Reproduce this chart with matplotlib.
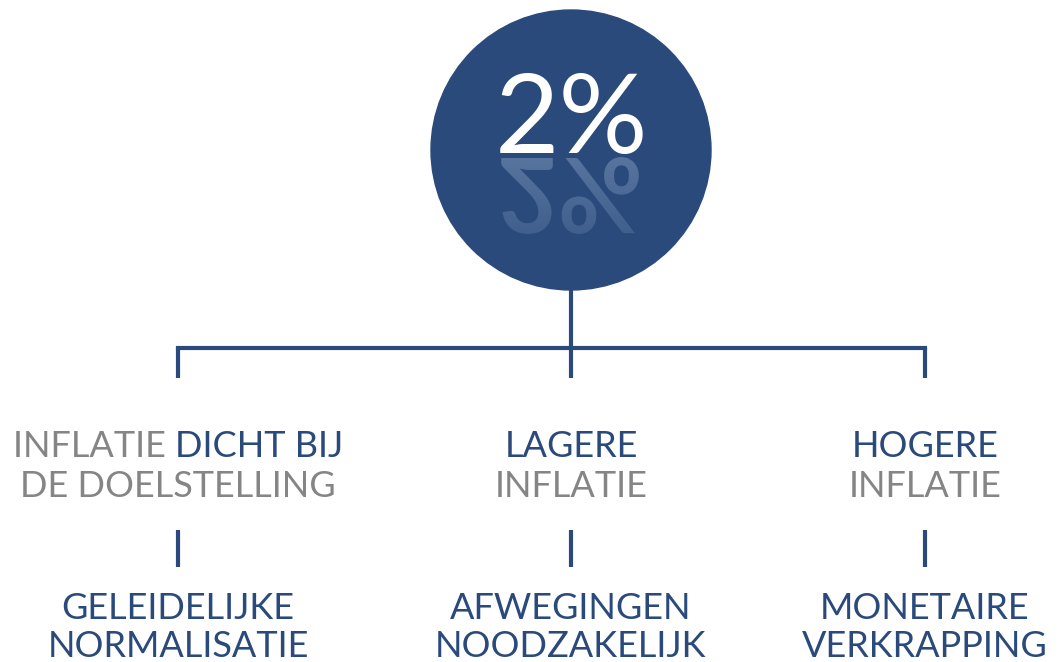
import matplotlib
matplotlib.use("Agg")
import matplotlib.pyplot as plt
import numpy as np
from matplotlib.patches import Circle, PathPatch
from matplotlib.textpath import TextPath
from matplotlib.font_manager import FontProperties
from matplotlib.path import Path

# diagram content
center_label = "2%"
col_x = [178, 571, 925]
# top labels: list of lines, each line is a list of (text, colour key)
top_labels = [
    [[("INFLATIE ", "grey"), ("DICHT BIJ", "blue")], [("DE DOELSTELLING", "grey")]],
    [[("LAGERE", "blue")], [("INFLATIE", "grey")]],
    [[("HOGERE", "blue")], [("INFLATIE", "grey")]],
]
bottom_labels = [
    ["GELEIDELIJKE", "NORMALISATIE"],
    ["AFWEGINGEN", "NOODZAKELIJK"],
    ["MONETAIRE", "VERKRAPPING"],
]

BLUE = "#2a4a7c"
GREY = "#858585"
colours = {"blue": BLUE, "grey": GREY}
FONT = "Lato"
FS = 26

W, H = 1059, 662
fig = plt.figure(figsize=(W / 100, H / 100), dpi=100)
ax = fig.add_axes([0, 0, 1, 1])
ax.set_xlim(0, W)
ax.set_ylim(H, 0)
ax.axis("off")

# circle
cx, cy, r = 571, 150, 140
ax.add_patch(Circle((cx, cy), r, color=BLUE, zorder=1))
ax.text(cx, 153, center_label, color="white", fontsize=80, family=FONT,
        ha="center", va="baseline", zorder=3)

# reflection (TextPath is y-up, axis is y-down, so it comes out mirrored)
fp = FontProperties(family=FONT, weight="bold")
tp = TextPath((0, 0), center_label, size=104, prop=fp)
ext = tp.get_extents()
verts = tp.vertices.copy()
verts[:, 0] = verts[:, 0] - (ext.x0 + ext.x1) / 2 + cx - 1
verts[:, 1] = verts[:, 1] + 158
rpath = Path(verts, tp.codes)
patch = PathPatch(rpath, facecolor="none", edgecolor="none")
ax.add_patch(patch)
grad = np.zeros((100, 2, 4))
grad[..., 0] = 0.50
grad[..., 1] = 0.60
grad[..., 2] = 0.74
grad[..., 3] = np.linspace(0.55, 0.25, 100)[:, None]
im = ax.imshow(grad, extent=(430, 712, 240, 155), aspect="auto", zorder=2,
               interpolation="bilinear")
im.set_clip_path(patch)
ax.set_xlim(0, W)
ax.set_ylim(H, 0)

# connector lines
lw = 3
ax.plot([cx, cx], [cy + r, 348], color=BLUE, lw=lw, solid_capstyle="butt")
ax.plot([col_x[0], col_x[2]], [348, 348], color=BLUE, lw=lw, solid_capstyle="projecting")
for x in col_x:
    ax.plot([x, x], [348, 378], color=BLUE, lw=lw, solid_capstyle="butt")
    ax.plot([x, x], [530, 567], color=BLUE, lw=lw, solid_capstyle="butt")

fig.canvas.draw()
renderer = fig.canvas.get_renderer()


def line_width(parts):
    t = ax.text(0, 0, "".join(p for p, _ in parts), fontsize=FS, family=FONT)
    w = t.get_window_extent(renderer).width
    t.remove()
    return w


def draw_line(x, y, parts):
    w = line_width(parts)
    x0 = x - w / 2
    for txt, c in parts:
        t = ax.text(x0, y, txt, fontsize=FS, family=FONT, color=colours[c],
                    ha="left", va="baseline")
        x0 += t.get_window_extent(renderer).width


for x, lines in zip(col_x, top_labels):
    for i, parts in enumerate(lines):
        draw_line(x, 457 + i * 40, parts)

for x, lines in zip(col_x, bottom_labels):
    for i, txt in enumerate(lines):
        ax.text(x, 619 + i * 38, txt, fontsize=FS, family=FONT, color=BLUE,
                ha="center", va="baseline")

fig.savefig("out.png", dpi=100)
